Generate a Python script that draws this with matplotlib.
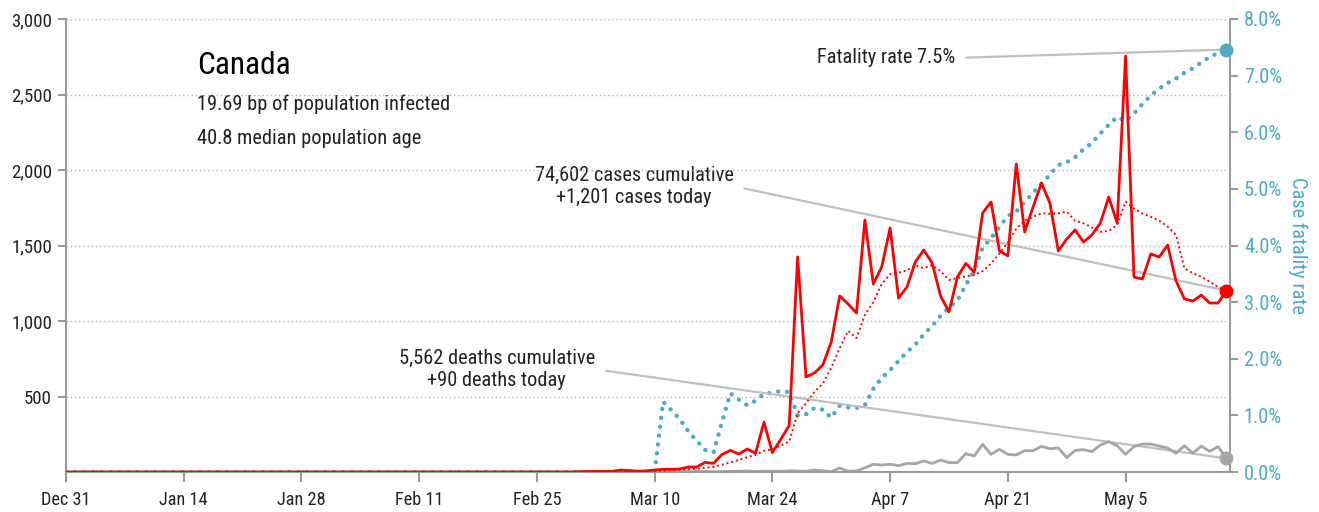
import numpy as np
import pandas as pd
import matplotlib
matplotlib.use("Agg")
import matplotlib.pyplot as plt
from matplotlib import font_manager as fm

# daily series, Dec 31 2019 .. May 17 2020 (139 days)
start = "2019-12-31"
n_days = 139

cases = [0] * 60 + [
    0, 2, 3, 4, 4, 5, 13, 10, 5, 8,
    13, 18, 18, 20, 33, 33, 64, 57, 116, 143,
    119, 152, 125, 330, 128, 217, 308, 1424, 629, 656,
    709, 861, 1166, 1113, 1053, 1669, 1245, 1358, 1616, 1152,
    1225, 1391, 1470, 1384, 1166, 1060, 1291, 1381, 1322, 1715,
    1788, 1464, 1431, 2040, 1589, 1755, 1914, 1781, 1464, 1543,
    1603, 1523, 1570, 1649, 1821, 1649, 2755, 1291, 1278, 1444,
    1424, 1503, 1265, 1146, 1132, 1172, 1119, 1119, 1201,
]

cases_avg = [0] * 60 + [
    0, 0, 1, 1, 2, 3, 4, 6, 6, 7,
    8, 10, 12, 14, 18, 21, 28, 34, 48, 63,
    80, 98, 113, 140, 150, 175, 201, 390, 455, 530,
    585, 690, 820, 935, 887, 1040, 1125, 1245, 1310, 1320,
    1335, 1370, 1350, 1370, 1330, 1272, 1285, 1295, 1305, 1330,
    1380, 1448, 1520, 1610, 1665, 1690, 1713, 1710, 1713, 1724,
    1664, 1647, 1620, 1591, 1596, 1636, 1790, 1745, 1712, 1690,
    1665, 1625, 1570, 1349, 1316, 1294, 1260, 1225, 1205,
]

deaths = [0] * 69 + [
    1, 0, 0, 1, 1, 2, 3, 5, 1, 3, 4,
    5, 7, 3, 5, 5, 4, 8, 6, 5, 13,
    8, 2, 26, 5, 7, 28, 51, 46, 51, 42,
    57, 55, 73, 57, 79, 62, 62, 121, 106, 183,
    117, 150, 117, 113, 141, 141, 170, 154, 159, 95,
    143, 148, 135, 179, 201, 174, 117, 168, 185, 185,
    172, 159, 124, 174, 124, 172, 137, 168, 90,
]

# case fatality rate, %
cfr = [0] * 71 + [
    1.24, 1.09, 0.93, 0.72, 0.55, 0.39, 0.35, 0.88, 1.39,
    1.28, 1.18, 1.26, 1.38, 1.40, 1.43, 1.41, 1.00, 1.02, 1.13,
    1.10, 0.96, 1.17, 1.14, 1.13, 1.18, 1.47, 1.66, 1.80, 1.96,
    2.12, 2.25, 2.43, 2.58, 2.76, 2.90, 3.03, 3.30, 3.56, 3.96,
    4.13, 4.33, 4.52, 4.60, 4.77, 4.93, 5.09, 5.25, 5.42, 5.47,
    5.56, 5.70, 5.81, 5.98, 6.13, 6.27, 6.20, 6.33, 6.50, 6.65,
    6.77, 6.87, 6.95, 7.05, 7.13, 7.23, 7.33, 7.40, 7.46,
]

tick_labels = ["Dec 31", "Jan 14", "Jan 28", "Feb 11", "Feb 25",
               "Mar 10", "Mar 24", "Apr 7", "Apr 21", "May 5"]
left_ticks = [500, 1000, 1500, 2000, 2500, 3000]
right_ticks = [0, 1, 2, 3, 4, 5, 6, 7, 8]

RED = "#ff0000"
BLUE = "#4bacc6"
GREY = "#a6a6a6"
AXIS = "#9a9a9a"
TXT = "#222222"

# look for a condensed face, the original uses one
stretch = "normal"
family = None
names = {f.name for f in fm.fontManager.ttflist}
for nm in ["Roboto Condensed", "Liberation Sans Narrow", "Noto Sans Condensed",
           "Open Sans Condensed", "DejaVu Sans Condensed", "Noto Sans Display Condensed"]:
    if nm in names:
        family = nm
        break
if family is None:
    for f in fm.fontManager.ttflist:
        st = f.stretch
        cond = (st in ("condensed", "semi-condensed", "extra-condensed")
                if isinstance(st, str) else st < 500)
        if cond and f.style == "normal" and f.weight in (400, "normal", "regular"):
            if "CJK" not in f.name and "Mono" not in f.name:
                family, stretch = f.name, f.stretch
                break
if family is None:
    family = "Liberation Sans"
plt.rcParams["font.family"] = [family, "DejaVu Sans"]
plt.rcParams["font.stretch"] = stretch

# scale sizes so a known line gets about the width it has in the reference
fig0 = plt.figure(dpi=100)
t = fig0.text(0, 0, "19.69 bp of population infected", fontsize=14.5)
w = t.get_window_extent(renderer=fig0.canvas.get_renderer()).width
plt.close(fig0)
k = min(1.05, 239.0 / w) * 1.05

dates = pd.date_range(start, periods=n_days, freq="D")
tick_dates = pd.date_range(start, periods=len(tick_labels), freq="14D")

fig = plt.figure(figsize=(13.19, 5.12), dpi=100)
ax = fig.add_axes([66 / 1319, 40 / 512, 1164 / 1319, 453 / 512])
ax2 = ax.twinx()
ax.set_zorder(ax2.get_zorder() + 1)
ax.patch.set_visible(False)

ax2.plot(dates, cfr, color=BLUE, lw=3.2, ls=(0, (0.01, 2.0)),
         dash_capstyle="round", zorder=2)
ax2.plot(dates[-1], cfr[-1], "o", color=BLUE, ms=9, clip_on=False, zorder=4)

ax.plot(dates, deaths, color=GREY, lw=2, zorder=2)
ax.plot(dates, cases_avg, color=RED, lw=1.4, ls=(0, (1, 1.5)), zorder=3)
ax.plot(dates, cases, color=RED, lw=2, zorder=4)
ax.plot(dates[-1], cases[-1], "o", color=RED, ms=9, clip_on=False, zorder=5)
ax.plot(dates[-1], deaths[-1], "o", color=GREY, ms=9, clip_on=False, zorder=5)

ax.set_xlim(dates[0], dates[-1] + pd.Timedelta(hours=10))
ax.set_ylim(0, 3000)
ax2.set_ylim(0, 8)

ax.set_xticks(tick_dates)
ax.set_xticklabels(tick_labels)
ax.set_yticks(left_ticks)
ax.set_yticklabels([f"{v:,}" for v in left_ticks])
ax2.set_yticks(right_ticks)
ax2.set_yticklabels([f"{v:.1f}%" for v in right_ticks])

ax.yaxis.grid(True, color="#b5b5b5", ls=(0, (1, 2)), lw=1)
ax.xaxis.grid(False)

for s in ["top", "right"]:
    ax.spines[s].set_visible(False)
for s in ["top", "left", "bottom"]:
    ax2.spines[s].set_visible(False)
for s in [ax.spines["left"], ax.spines["bottom"], ax2.spines["right"]]:
    s.set_color(AXIS)
    s.set_linewidth(1.5)

ax.tick_params(axis="y", length=6, width=1.5, color=AXIS, labelsize=13.5 * k,
               labelcolor=TXT, pad=4)
ax.tick_params(axis="x", length=7, width=1.5, color=AXIS, labelsize=13 * k,
               labelcolor=TXT, pad=7)
ax2.tick_params(axis="y", length=6, width=1.5, color=AXIS, labelsize=14.5 * k,
                labelcolor=BLUE, pad=4)
ax2.set_ylabel("Case fatality rate", color=BLUE, fontsize=14.5 * k, rotation=270,
               labelpad=18)

# header text
ax.text(0.1125, 0.898, "Canada", transform=ax.transAxes, fontsize=22.5 * k,
        color="black", va="center", ha="left")
ax.text(0.1125, 0.812, "19.69 bp of population infected", transform=ax.transAxes,
        fontsize=14.5 * k, color=TXT, va="center", ha="left")
ax.text(0.1125, 0.737, "40.8 median population age", transform=ax.transAxes,
        fontsize=14.5 * k, color=TXT, va="center", ha="left")

line = dict(arrowstyle="-", color="#c0c0c0", lw=1.6, shrinkA=6, shrinkB=0,
            relpos=(1, 0.5))
ax2.annotate("Fatality rate 7.5%", xy=(dates[-1], cfr[-1]),
             xytext=(0.764, 0.914), textcoords="axes fraction",
             ha="right", va="center", fontsize=14.5 * k, color=TXT,
             arrowprops=line)
ax.annotate("74,602 cases cumulative\n+1,201 cases today",
            xy=(dates[-1], cases[-1]), xytext=(0.488, 0.631),
            textcoords="axes fraction", ha="center", va="center",
            multialignment="center", linespacing=1.2, fontsize=14.5 * k,
            color=TXT, arrowprops=line, zorder=1)
ax.annotate("5,562 deaths cumulative\n+90 deaths today",
            xy=(dates[-1], deaths[-1]), xytext=(0.370, 0.227),
            textcoords="axes fraction", ha="center", va="center",
            multialignment="center", linespacing=1.2, fontsize=14.5 * k,
            color=TXT, arrowprops=line, zorder=1)

fig.savefig("out.png", dpi=100)
